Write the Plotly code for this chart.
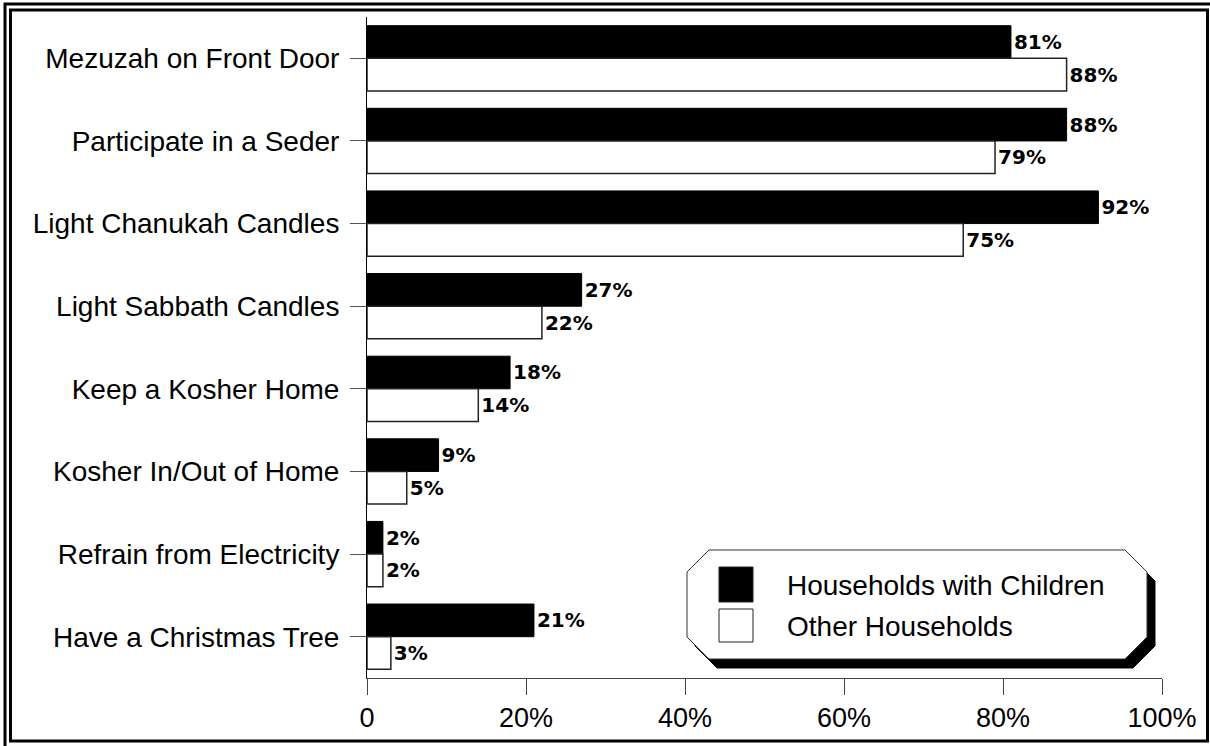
import plotly.graph_objects as go

# Observance items (top to bottom)
categories = [
    "Mezuzah on Front Door",
    "Participate in a Seder",
    "Light Chanukah Candles",
    "Light Sabbath Candles",
    "Keep a Kosher Home",
    "Kosher In/Out of Home",
    "Refrain from Electricity",
    "Have a Christmas Tree",
]
with_children = [81, 88, 92, 27, 18, 9, 2, 21]
other_households = [88, 79, 75, 22, 14, 5, 2, 3]

series_names = ["Households with Children", "Other Households"]
tick_values = [0, 20, 40, 60, 80, 100]
tick_labels = ["0", "20%", "40%", "60%", "80%", "100%"]

# Canvas and plot-area geometry (pixels)
W, H = 1210, 746
ML, MR, MT, MB = 367, 48, 17, 68
PW = W - ML - MR
PH = H - MT - MB


def px(x):
    return (x - ML) / PW


def py(y):
    return (H - MB - y) / PH


label_font = dict(family="DejaVu Sans", size=20, color="black", weight="bold")
sans = "Liberation Sans, Arial, sans-serif"

fig = go.Figure()
fig.add_trace(go.Bar(
    y=categories, x=with_children, orientation="h", name=series_names[0],
    marker=dict(color="black", line=dict(color="black", width=1)),
    texttemplate="%{x}%", textposition="outside", textfont=label_font,
    cliponaxis=False, showlegend=False,
))
fig.add_trace(go.Bar(
    y=categories, x=other_households, orientation="h", name=series_names[1],
    marker=dict(color="white", line=dict(color="#222", width=1.5)),
    texttemplate="%{x}%", textposition="outside", textfont=label_font,
    cliponaxis=False, showlegend=False,
))

shapes = []

# Double frame around the whole figure
for x0, y0, x1, y1 in [(5, 4, 1213, 749), (10.5, 10, 1207.5, 741)]:
    shapes.append(dict(type="rect", xref="paper", yref="paper",
                       x0=px(x0), y0=py(y0), x1=px(x1), y1=py(y1),
                       line=dict(color="black", width=3), fillcolor="rgba(0,0,0,0)"))


def octagon(x0, y0, x1, y1, c):
    pts = [(x0 + c, y0), (x1 - c, y0), (x1, y0 + c), (x1, y1 - c),
           (x1 - c, y1), (x0 + c, y1), (x0, y1 - c), (x0, y0 + c)]
    return "M " + " L ".join(f"{px(a):.5f},{py(b):.5f}" for a, b in pts) + " Z"


# Legend box with drop shadow
bx0, by0, bx1, by1, cut = 687, 550, 1147, 659, 22
shapes.append(dict(type="path", xref="paper", yref="paper",
                   path=octagon(bx0 + 8, by0 + 9, bx1 + 8, by1 + 9, cut),
                   fillcolor="black", line=dict(color="black", width=1)))
shapes.append(dict(type="path", xref="paper", yref="paper",
                   path=octagon(bx0, by0, bx1, by1, cut),
                   fillcolor="white", line=dict(color="#333", width=1)))

# Legend swatches
swatches = [("black", 567, 602), ("white", 609, 642)]
for color, sy0, sy1 in swatches:
    shapes.append(dict(type="rect", xref="paper", yref="paper",
                       x0=px(719), x1=px(753), y0=py(sy0), y1=py(sy1),
                       fillcolor=color, line=dict(color="#222", width=1)))

annotations = []
for name, (color, sy0, sy1) in zip(series_names, swatches):
    annotations.append(dict(
        xref="paper", yref="paper", x=px(785), y=py((sy0 + sy1) / 2 + 1),
        text=name, showarrow=False, xanchor="left", yanchor="middle",
        font=dict(family=sans, size=28, color="black"),
    ))

fig.update_layout(
    width=W, height=H,
    margin=dict(l=ML, r=MR, t=MT, b=MB, pad=0),
    paper_bgcolor="white", plot_bgcolor="white",
    barmode="group", bargap=0.21, bargroupgap=0,
    shapes=shapes, annotations=annotations,
    xaxis=dict(
        range=[0, 100], tickvals=tick_values, ticktext=tick_labels,
        showgrid=False, zeroline=False, showline=True, linecolor="#444", linewidth=1,
        ticks="outside", ticklen=16, tickcolor="#444", tickwidth=1,
        tickfont=dict(family=sans, size=27, color="black"),
    ),
    yaxis=dict(
        type="category", autorange="reversed",
        showgrid=False, zeroline=False, showline=True, linecolor="black", linewidth=1,
        ticks="outside", ticklen=16, tickcolor="#555", tickwidth=1,
        tickfont=dict(family=sans, size=28, color="black"),
        ticklabelstandoff=5,
    ),
)

fig.write_html("out.html")
